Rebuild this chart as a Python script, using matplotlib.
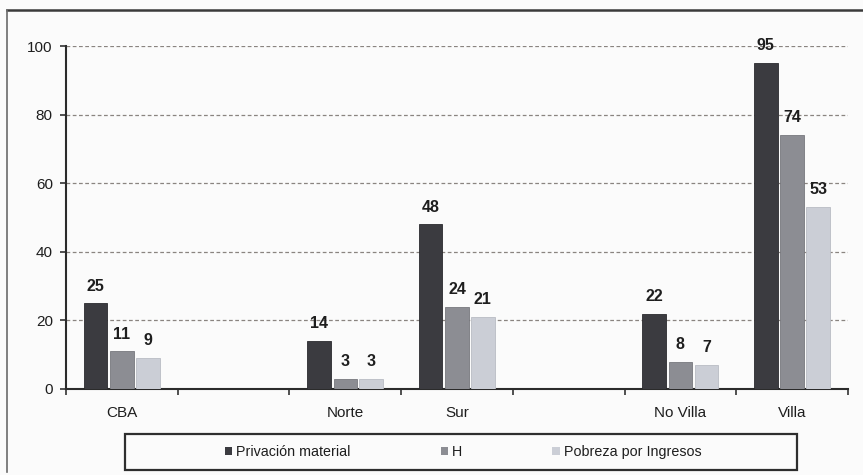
import numpy as np
import matplotlib
matplotlib.use("Agg")
import matplotlib.pyplot as plt
from matplotlib.lines import Line2D
from matplotlib.patches import Patch, Rectangle

plt.rcParams["font.family"] = ["Liberation Sans", "DejaVu Sans"]

# Category slots (blank slots separate the groups of areas)
categories = ["CBA", "", "Norte", "Sur", "", "No Villa", "Villa"]
series_names = ["Privación material", "H", "Pobreza por Ingresos"]
privacion = [25, np.nan, 14, 48, np.nan, 22, 95]
h_index = [11, np.nan, 3, 24, np.nan, 8, 74]
pobreza = [9, np.nan, 3, 21, np.nan, 7, 53]
y_ticks = [0, 20, 40, 60, 80, 100]

colors = ["#3b3b40", "#8c8d93", "#cbced6"]
edge_colors = ["#2a2a2e", "#77787e", "#b9bcc4"]

fig = plt.figure(figsize=(8.63, 4.75), dpi=100, facecolor="#fbfbfb")
ax = fig.add_axes([66 / 863, 1 - 389 / 475, (848 - 66) / 863, (389 - 46) / 475])
ax.set_facecolor("#fbfbfb")

x = np.arange(len(categories))
width = 0.21
offsets = [-0.235, 0.0, 0.232]
for vals, off, c, ec in zip([privacion, h_index, pobreza], offsets, colors, edge_colors):
    v = np.array(vals, dtype=float)
    ok = ~np.isnan(v)
    ax.bar(x[ok] + off, v[ok], width=width, color=c, edgecolor=ec, linewidth=0.6, zorder=3)
    for xi, vi in zip(x[ok] + off, v[ok]):
        ax.annotate(f"{vi:.0f}", (xi, vi), xytext=(0, 7), textcoords="offset points",
                    ha="center", va="bottom", fontsize=11.5, fontweight="bold",
                    color="#1e1e1e", zorder=4)

ax.set_xlim(-0.5, len(categories) - 0.5)
ax.set_ylim(0, 100)
ax.set_yticks(y_ticks)
ax.yaxis.grid(True, linestyle=(0, (3, 2)), color="#8a8480", linewidth=0.9, zorder=1)
ax.set_axisbelow(True)

# Boundary ticks between slots, labels centred in each slot
ax.set_xticks(np.arange(-0.5, len(categories)), minor=False)
ax.set_xticklabels([])
ax.set_xticks(x, minor=True)
ax.set_xticklabels(categories, minor=True)
ax.tick_params(axis="x", which="major", direction="out", length=4, width=1.2, color="#333333")
ax.tick_params(axis="x", which="minor", length=0, pad=12, labelsize=11, labelcolor="#1e1e1e")
ax.tick_params(axis="y", direction="out", length=4.5, width=1.2, color="#333333",
               pad=5, labelsize=11, labelcolor="#1e1e1e")

for s in ["top", "right"]:
    ax.spines[s].set_visible(False)
for s in ["left", "bottom"]:
    ax.spines[s].set_color("#2b2b2b")
    ax.spines[s].set_linewidth(1.5)

# Legend with its own outline box
handles = [Patch(facecolor=c, edgecolor="none") for c in colors]
leg = fig.legend(handles, series_names, loc="center", bbox_to_anchor=(463 / 863, 1 - 452 / 475),
                 ncol=3, frameon=False, fontsize=10.3, handlelength=0.55, handleheight=0.55,
                 handletextpad=0.25, columnspacing=6.3, labelcolor="#1e1e1e")
fig.add_artist(Rectangle((125 / 863, 1 - 470 / 475), (797 - 125) / 863, 36 / 475,
                         transform=fig.transFigure, fill=False, edgecolor="#2e2e2e",
                         linewidth=1.6))

# Outer frame lines
fig.add_artist(Line2D([7 / 863, 1.0], [1 - 10 / 475, 1 - 10 / 475], transform=fig.transFigure,
                      color="#3a3a3a", linewidth=1.8))
fig.add_artist(Line2D([7 / 863, 7 / 863], [1 - 10 / 475, 1 - 472 / 475], transform=fig.transFigure,
                      color="#6a6a6a", linewidth=1.2))

fig.savefig("out.png", dpi=100, facecolor=fig.get_facecolor())
